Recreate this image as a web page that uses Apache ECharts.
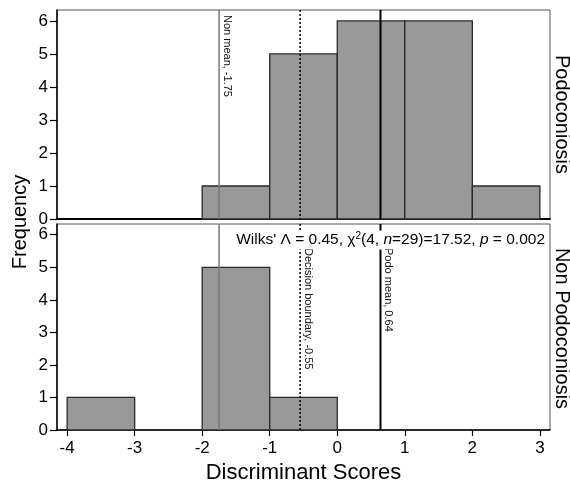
<!DOCTYPE html>
<html>
<head>
<meta charset="utf-8">
<script src="https://cdn.jsdelivr.net/npm/echarts@6/dist/echarts.min.js"></script>
<style>
  html, body { margin: 0; padding: 0; background: #fff; }
  #chart { width: 570px; height: 485px; }
</style>
</head>
<body>
<div id="chart"></div>
<script>
// Histogram bins (unit width, left edges) and counts per group
const binStarts = [-4, -3, -2, -1, 0, 1, 2];
const podoCounts = [0, 0, 1, 5, 6, 6, 1];
const nonPodoCounts = [1, 0, 5, 1, 0, 0, 0];

// Reference lines
const nonMean = -1.75;
const decisionBoundary = -0.55;
const podoMean = 0.64;

const xTicks = [-4, -3, -2, -1, 0, 1, 2, 3];
const yTicks = [0, 1, 2, 3, 4, 5, 6];
const panelNames = ['Podoconiosis', 'Non Podoconiosis'];

const X_MIN = -4.15, X_MAX = 3.15, Y_MAX = 6.33;
const FONT = 'Liberation Sans, Arial, sans-serif';

function binData(counts) {
  return binStarts.map((s, i) => [s, s + 1, counts[i]]);
}

function histSeries(idx, counts) {
  return {
    type: 'custom',
    xAxisIndex: idx,
    yAxisIndex: idx,
    data: binData(counts),
    encode: { x: [0, 1], y: 2 },
    z: 2,
    renderItem: function (params, api) {
      const c = api.value(2);
      if (!c) return null;
      const p0 = api.coord([api.value(0), c]);
      const p1 = api.coord([api.value(1), 0]);
      return {
        type: 'rect',
        shape: { x: p0[0], y: p0[1], width: p1[0] - p0[0], height: p1[1] - p0[1] },
        style: { fill: '#999999', stroke: '#2a2a2a', lineWidth: 1.3 }
      };
    }
  };
}

function refLine(idx, value, color, width, dash, label, labelOffset) {
  return {
    type: 'custom',
    xAxisIndex: idx,
    yAxisIndex: idx,
    data: [[value, 0], [value, Y_MAX]],
    encode: { x: 0, y: 1 },
    z: 5,
    renderItem: function (params, api) {
      if (params.dataIndex !== 0) return null;
      const top = api.coord([value, Y_MAX]);
      const bottom = api.coord([value, 0]);
      const children = [{
        type: 'line',
        shape: { x1: top[0], y1: top[1], x2: bottom[0], y2: bottom[1] },
        style: { stroke: color, lineWidth: width, lineDash: dash || null }
      }];
      if (label) {
        children.push({
          type: 'text',
          x: top[0] + 2,
          y: top[1] + labelOffset,
          rotation: -Math.PI / 2,
          style: {
            text: label,
            fill: '#111',
            font: '11px ' + FONT,
            align: 'left',
            verticalAlign: 'bottom'
          }
        });
      }
      return { type: 'group', children: children };
    }
  };
}

const grids = [
  { left: 57, right: 20, top: 10, height: 209 },
  { left: 57, right: 20, top: 224, height: 209 }
];

const chart = echarts.init(document.getElementById('chart'), null, { renderer: 'canvas' });

chart.setOption({
  animation: false,
  backgroundColor: '#fff',
  grid: grids.map(g => Object.assign({ show: true, borderColor: '#555', borderWidth: 1, backgroundColor: 'transparent' }, g)),
  xAxis: [0, 1].map(i => ({
    type: 'value',
    gridIndex: i,
    min: X_MIN,
    max: X_MAX,
    splitLine: { show: false },
    axisLine: { show: true, onZero: false, lineStyle: { color: '#000', width: i === 0 ? 2 : 1.5 } },
    axisTick: { show: i === 1, inside: false, length: 6, customValues: xTicks, lineStyle: { color: '#000', width: 1.2 } },
    axisLabel: {
      show: i === 1, customValues: xTicks, margin: 10,
      fontSize: 17, color: '#000', fontFamily: FONT
    },
    name: i === 1 ? 'Discriminant Scores' : '',
    nameLocation: 'middle',
    nameGap: 32,
    nameTextStyle: { fontSize: 22, color: '#000', fontFamily: FONT }
  })),
  yAxis: [0, 1].map(i => ({
    type: 'value',
    gridIndex: i,
    min: 0,
    max: Y_MAX,
    splitLine: { show: false },
    axisLine: { show: true, onZero: false, lineStyle: { color: '#000', width: 1.5 } },
    axisTick: { show: true, length: 7, customValues: yTicks, lineStyle: { color: '#000', width: 1.2 } },
    axisLabel: { customValues: yTicks, margin: 9, fontSize: 17, color: '#000', fontFamily: FONT }
  })),
  series: [
    histSeries(0, podoCounts),
    histSeries(1, nonPodoCounts),
    refLine(0, nonMean, '#777', 1.5, null, 'Non mean, -1.75', 5),
    refLine(0, decisionBoundary, '#000', 1.5, [2, 2], null, 0),
    refLine(0, podoMean, '#000', 2, null, null, 0),
    refLine(1, nonMean, '#777', 1.5, null, null, 0),
    refLine(1, decisionBoundary, '#000', 1.5, [2, 2], 'Decision boundary, -0.55', 24),
    refLine(1, podoMean, '#000', 2, null, 'Podo mean, 0.64', 24)
  ],
  graphic: [
    {
      type: 'text', x: 20, y: 222, rotation: Math.PI / 2,
      style: { text: 'Frequency', font: '20px ' + FONT, fill: '#000', align: 'center', verticalAlign: 'middle' }
    },
    {
      type: 'text', x: 562, y: 114.5, rotation: -Math.PI / 2,
      style: { text: panelNames[0], font: '20px ' + FONT, fill: '#000', align: 'center', verticalAlign: 'middle' }
    },
    {
      type: 'text', x: 562, y: 328.5, rotation: -Math.PI / 2,
      style: { text: panelNames[1], font: '20px ' + FONT, fill: '#000', align: 'center', verticalAlign: 'middle' }
    },
    {
      type: 'text', x: 547, y: 240, z: 100,
      style: {
        text: "{a|Wilks' Λ = 0.45, χ}{s|2}{a|(4, }{i|n}{a|=29)=17.52, }{i|p}{a| = 0.002}",
        align: 'right', verticalAlign: 'middle', fill: '#000',
        backgroundColor: '#fff',
        padding: [1, 2, 1, 2],
        rich: {
          a: { fontSize: 15.5, fontFamily: FONT, color: '#000' },
          i: { fontSize: 15.5, fontFamily: FONT, fontStyle: 'italic', color: '#000' },
          s: { fontSize: 10, fontFamily: FONT, color: '#000', verticalAlign: 'top', padding: [0, 0, 7, 0] }
        }
      }
    }
  ]
});
</script>
</body>
</html>
